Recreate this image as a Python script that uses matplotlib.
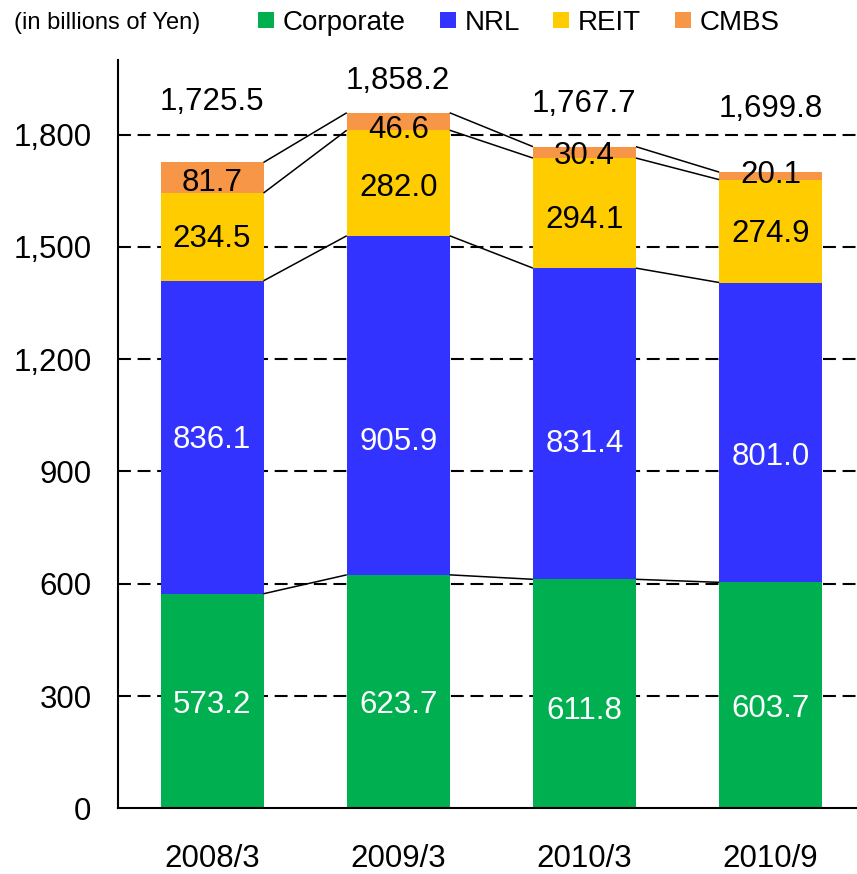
import matplotlib
matplotlib.use("Agg")
import matplotlib.pyplot as plt
from matplotlib.lines import Line2D
import numpy as np

plt.rcParams['font.family'] = ['Liberation Sans', 'DejaVu Sans']

categories = ["2008/3", "2009/3", "2010/3", "2010/9"]
corporate = [573.2, 623.7, 611.8, 603.7]
nrl = [836.1, 905.9, 831.4, 801.0]
reit = [234.5, 282.0, 294.1, 274.9]
cmbs = [81.7, 46.6, 30.4, 20.1]
totals = [1725.5, 1858.2, 1767.7, 1699.8]
yticks = [0, 300, 600, 900, 1200, 1500, 1800]

series_names = ["Corporate", "NRL", "REIT", "CMBS"]
series = [corporate, nrl, reit, cmbs]
colors = ["#00B050", "#3333FF", "#FFCC00", "#F79646"]
label_colors = ["white", "white", "black", "black"]

# layout: vertical placement (in axis units) of the value labels, as in the original
label_y = [
    [285, 285, 269, 275],
    [992, 988, 982, 949],
    [1530, 1667, 1582, 1544],
    [1681, 1822, 1753, 1700],
]
total_label_y = [1896, 1952, 1892, 1877]

W, H = 857, 874
fig = plt.figure(figsize=(W / 100, H / 100), dpi=100)
ax = fig.add_axes([118 / W, (H - 808.3) / H, (W - 118) / W, (808.3 - 59.7) / H])

x = np.arange(len(categories))
bw = 0.553
bottom = np.zeros(len(categories))
tops = []
for vals, col, lc, ly in zip(series, colors, label_colors, label_y):
    vals = np.array(vals)
    ax.bar(x, vals, bw, bottom=bottom, color=col, edgecolor='none', zorder=2)
    for xi, v, yy in zip(x, vals, ly):
        ax.text(xi, yy, f"{v:.1f}", ha='center', va='center_baseline',
                color=lc, fontsize=22.5, zorder=5)
    bottom = bottom + vals
    tops.append(bottom.copy())

# connector lines between bars for each layer boundary
for layer_top in tops:
    for i in range(len(categories) - 1):
        ax.plot([x[i] + bw / 2, x[i + 1] - bw / 2], [layer_top[i], layer_top[i + 1]],
                color='black', lw=1.1, zorder=3, solid_capstyle='butt')

for xi, t, ty in zip(x, totals, total_label_y):
    ax.text(xi, ty, f"{t:,.1f}", ha='center', va='center_baseline',
            color='black', fontsize=22.5, zorder=5)

ax.set_xlim(-0.505, 3.464)
ax.set_ylim(0, 2000)
ax.set_yticks(yticks)
ax.set_yticklabels([f"{v:,}" for v in yticks])
ax.set_xticks(x)
ax.set_xticklabels(categories)
ax.tick_params(axis='y', length=0, pad=19, labelsize=22.5)
ax.tick_params(axis='x', length=0, pad=26, labelsize=22.5)

for v in yticks[1:]:
    ax.axhline(v, color='black', lw=1.5, dashes=(6.2, 3.2), zorder=1)

for s in ['top', 'right']:
    ax.spines[s].set_visible(False)
for s in ['left', 'bottom']:
    ax.spines[s].set_linewidth(1.5)
    ax.spines[s].set_color('black')
    ax.spines[s].set_zorder(4)

handles = [Line2D([], [], marker='s', linestyle='', markersize=11.5,
                  markerfacecolor=c, markeredgewidth=0) for c in colors]
fig.legend(handles, series_names, loc='center left',
           bbox_to_anchor=(258 / W, 1 - 23 / H), ncol=4, frameon=False,
           fontsize=20, handlelength=0.6, handletextpad=0.3,
           columnspacing=1.2, borderpad=0, borderaxespad=0)

fig.text(14 / W, 1 - 23 / H, "(in billions of Yen)", fontsize=17,
         ha='left', va='center')

fig.savefig("out.png", dpi=100)
